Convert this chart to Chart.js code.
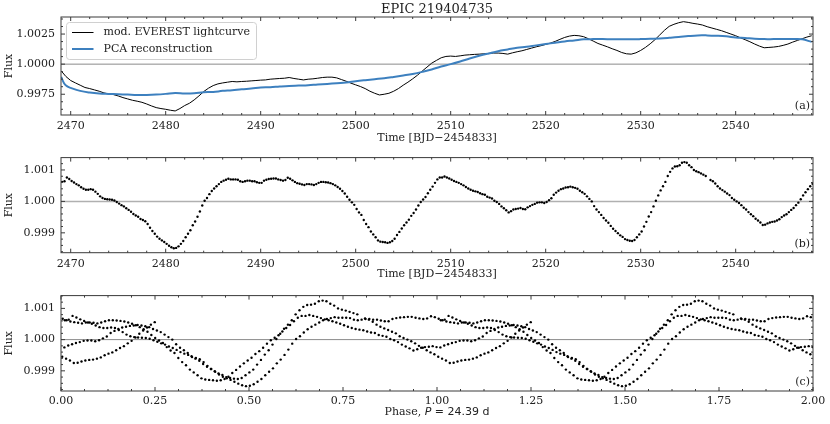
<!DOCTYPE html>
<html>
<head>
<meta charset="utf-8">
<script src="https://cdn.jsdelivr.net/npm/chart.js@4.4.1/dist/chart.umd.min.js"></script>
<style>
  body { margin: 0; background: #fff; }
  .painel { position: absolute; left: 0; width: 830px; }
</style>
</head>
<body>
<div class="painel" style="top:0;height:145px"><canvas id="cvA" width="830" height="145"></canvas></div>
<div class="painel" style="top:145px;height:138px"><canvas id="cvB" width="830" height="138"></canvas></div>
<div class="painel" style="top:283px;height:141px"><canvas id="cvC" width="830" height="141"></canvas></div>
<script>
// curva EVEREST modificada (painel a), passo de 0.5 d
const inicioEverest = 2469.0, passoEverest = 0.5;
const fluxoEverest = [
  0.99944, 0.99897, 0.99864, 0.99844, 0.99825, 0.99806, 0.99797, 0.99786, 0.99775, 0.99761,
  0.99753, 0.99747, 0.99736, 0.99722, 0.99711, 0.99700, 0.99692, 0.99683, 0.99669, 0.99653,
  0.99639, 0.99631, 0.99625, 0.99617, 0.99611, 0.99631, 0.99656, 0.99675, 0.99703, 0.99736,
  0.99772, 0.99800, 0.99822, 0.99836, 0.99844, 0.99850, 0.99856, 0.99853, 0.99856, 0.99858,
  0.99861, 0.99864, 0.99867, 0.99869, 0.99875, 0.99878, 0.99881, 0.99883, 0.99889, 0.99881,
  0.99875, 0.99869, 0.99875, 0.99878, 0.99883, 0.99889, 0.99892, 0.99892, 0.99886, 0.99872,
  0.99858, 0.99842, 0.99828, 0.99814, 0.99797, 0.99775, 0.99758, 0.99744, 0.99750, 0.99758,
  0.99775, 0.99797, 0.99825, 0.99850, 0.99878, 0.99908, 0.99942, 0.99975, 1.00008, 1.00031,
  1.00053, 1.00064, 1.00067, 1.00064, 1.00069, 1.00075, 1.00078, 1.00081, 1.00083, 1.00086,
  1.00089, 1.00092, 1.00092, 1.00089, 1.00083, 1.00094, 1.00103, 1.00111, 1.00122, 1.00133,
  1.00144, 1.00153, 1.00164, 1.00175, 1.00189, 1.00206, 1.00222, 1.00233, 1.00239, 1.00236,
  1.00228, 1.00211, 1.00192, 1.00172, 1.00158, 1.00144, 1.00128, 1.00114, 1.00097, 1.00086,
  1.00083, 1.00094, 1.00114, 1.00139, 1.00169, 1.00203, 1.00242, 1.00281, 1.00314, 1.00331,
  1.00344, 1.00353, 1.00347, 1.00339, 1.00333, 1.00325, 1.00311, 1.00300, 1.00289, 1.00278,
  1.00264, 1.00250, 1.00236, 1.00219, 1.00203, 1.00186, 1.00167, 1.00150, 1.00136, 1.00139,
  1.00142, 1.00147, 1.00156, 1.00167, 1.00183, 1.00197, 1.00211, 1.00225, 1.00236
];

// reconstrucao PCA (painel a)
const tempoPca = [2469.0, 2469.3, 2469.6, ...Array.from({length: 79}, (_, i) => 2470 + i)];
const fluxoPca = [
  0.99894, 0.99842, 0.99817,
  0.99803, 0.99778, 0.99764, 0.99756, 0.99753, 0.99750, 0.99747, 0.99744, 0.99744, 0.99747,
  0.99753, 0.99761, 0.99756, 0.99758, 0.99767, 0.99769, 0.99778, 0.99783, 0.99792, 0.99797,
  0.99806, 0.99808, 0.99814, 0.99819, 0.99822, 0.99825, 0.99831, 0.99836, 0.99842, 0.99847,
  0.99858, 0.99867, 0.99875, 0.99883, 0.99894, 0.99906, 0.99919, 0.99936, 0.99956, 0.99981,
  1.00000, 1.00022, 1.00047, 1.00069, 1.00089, 1.00108, 1.00122, 1.00136, 1.00144, 1.00156,
  1.00167, 1.00178, 1.00189, 1.00197, 1.00206, 1.00208, 1.00208, 1.00206, 1.00206, 1.00206,
  1.00208, 1.00211, 1.00214, 1.00219, 1.00225, 1.00233, 1.00239, 1.00239, 1.00236, 1.00231,
  1.00222, 1.00217, 1.00211, 1.00208, 1.00208, 1.00208, 1.00208, 1.00206, 1.00185
];

// curva corrigida (painel b), passo de 0.25 d; null = falha nos dados
const inicioDet = 2469.1, passoDet = 0.25;
const fluxoDet = [
  1.00062, 1.00064, 1.00076, 1.00071, 1.00065, 1.00060, 1.00055, 1.00051, 1.00045, 1.00040,
  1.00037, 1.00037, 1.00039, 1.00037, 1.00031, 1.00024, 1.00016, 1.00011, 1.00008, 1.00007,
  1.00006, 1.00005, 1.00003, 0.99998, 0.99993, 0.99988, 0.99984, 0.99978, 0.99973, 0.99967,
  0.99960, 0.99955, 0.99951, 0.99944, 0.99941, 0.99937, 0.99928, 0.99916, 0.99906, 0.99897,
  0.99888, 0.99881, 0.99876, 0.99871, 0.99865, 0.99859, 0.99854, 0.99851, 0.99852, 0.99857,
  0.99865, 0.99874, 0.99886, 0.99897, 0.99908, 0.99924, 0.99936, 0.99951, 0.99968, 0.99987,
  1.00002, 1.00011, 1.00023, 1.00033, 1.00041, 1.00048, 1.00055, 1.00062, 1.00066, 1.00069,
  1.00072, 1.00070, 1.00070, 1.00070, 1.00069, 1.00064, 1.00062, 1.00064, 1.00066, 1.00066,
  1.00064, 1.00064, 1.00061, 1.00059, 1.00059, 1.00066, 1.00069, 1.00071, 1.00072, 1.00073,
  1.00073, 1.00070, 1.00068, 1.00066, 1.00068, 1.00075, 1.00072, 1.00067, 1.00062, 1.00058,
  1.00056, 1.00054, 1.00052, 1.00055, 1.00055, 1.00054, 1.00052, 1.00055, 1.00059, 1.00062,
  1.00062, 1.00061, 1.00060, 1.00058, 1.00055, 1.00051, 1.00046, 1.00040, 1.00033, 1.00025,
  1.00015, 1.00005, 0.99997, 0.99989, 0.99976, 0.99965, 0.99957, 0.99941, 0.99928, 0.99918,
  0.99904, 0.99895, 0.99886, 0.99876, 0.99872, 0.99871, 0.99870, 0.99868, 0.99870, 0.99874,
  0.99881, 0.99893, 0.99903, 0.99914, 0.99924, 0.99933, 0.99942, 0.99954, 0.99963, 0.99974,
  0.99987, 0.99998, 1.00006, 1.00014, 1.00026, 1.00037, 1.00047, 1.00059, 1.00070, 1.00076,
  1.00076, 1.00079, 1.00076, 1.00073, 1.00069, 1.00065, 1.00062, 1.00059, 1.00055, 1.00051,
  1.00046, 1.00041, 1.00037, 1.00034, 1.00032, 1.00030, 1.00026, 1.00023, 1.00021, 1.00015,
  1.00012, 1.00009, 1.00002, 0.99998, 0.99992, 0.99984, 0.99978, 0.99972, 0.99965, 0.99969,
  0.99974, 0.99976, 0.99977, 0.99979, 0.99976, 0.99975, 0.99981, 0.99985, 0.99989, 0.99992,
  0.99996, 0.99997, 0.99997, 0.99995, 0.99998, 1.00004, 1.00010, 1.00021, 1.00028, 1.00034,
  1.00039, 1.00041, 1.00044, 1.00045, 1.00047, 1.00045, 1.00043, 1.00040, 1.00034, 1.00029,
  1.00024, 1.00016, 1.00008, 1.00000, 0.99985, 0.99974, 0.99966, 0.99957, 0.99947, 0.99939,
  0.99932, 0.99922, 0.99913, 0.99906, 0.99899, 0.99892, 0.99887, 0.99880, 0.99877, 0.99875,
  0.99874, 0.99877, 0.99886, 0.99895, 0.99904, 0.99920, 0.99935, 0.99952, 0.99966, 0.99984,
  1.00002, 1.00019, 1.00035, 1.00048, 1.00062, 1.00081, 1.00094, 1.00105, 1.00111, 1.00112,
  1.00115, 1.00123, 1.00125, 1.00123, 1.00115, 1.00109, 1.00100, 1.00096, 1.00093, 1.00089,
  1.00085, 1.00081, null, 1.00068, 1.00064, 1.00057, 1.00048, 1.00041, 1.00036, 1.00031,
  1.00025, 1.00020, 1.00011, 1.00005, 1.00000, 0.99995, 0.99988, 0.99980, 0.99974, 0.99966,
  0.99959, 0.99953, 0.99945, 0.99939, 0.99933, 0.99925, 0.99926, 0.99930, 0.99933, 0.99935,
  0.99936, 0.99939, 0.99943, 0.99950, 0.99955, 0.99959, 0.99966, 0.99973, 0.99979, 0.99988,
  0.99996, 1.00007, 1.00019, 1.00029, 1.00039, 1.00048, 1.00056
];

// dobra em fase (painel c)
const periodo = 24.39;
const epocaT0 = 2468.85;

Chart.defaults.font.family = "'DejaVu Serif', serif";
Chart.defaults.font.size = 11;
Chart.defaults.color = '#222';

const corEixo = '#3a3a3a';

function desenharTicks(ctx, escala, area, passoMenor, vertical) {
  const maiores = escala.ticks.map(t => t.value);
  const marcas = maiores.map(v => ({ v, len: 4 }));
  if (passoMenor) {
    for (let k = Math.ceil(escala.min / passoMenor - 1e-6); k * passoMenor <= escala.max + 1e-12; k++) {
      const v = k * passoMenor;
      if (maiores.some(m => Math.abs(m - v) < passoMenor / 10)) continue;
      marcas.push({ v, len: 2 });
    }
  }
  marcas.forEach(({ v, len }) => {
    const p = escala.getPixelForValue(v);
    ctx.beginPath();
    if (vertical) {
      ctx.moveTo(area.left, p); ctx.lineTo(area.left + len, p);
      ctx.moveTo(area.right, p); ctx.lineTo(area.right - len, p);
    } else {
      ctx.moveTo(p, area.bottom); ctx.lineTo(p, area.bottom - len);
      ctx.moveTo(p, area.top); ctx.lineTo(p, area.top + len);
    }
    ctx.stroke();
  });
}

const moldura = {
  id: 'moldura',
  beforeDatasetsDraw(chart, args, opts) {
    const { ctx, chartArea: a, scales: { y } } = chart;
    const y1 = y.getPixelForValue(1);
    ctx.save();
    ctx.strokeStyle = opts.corZero;
    ctx.lineWidth = opts.larguraZero;
    ctx.beginPath();
    ctx.moveTo(a.left, y1);
    ctx.lineTo(a.right, y1);
    ctx.stroke();
    ctx.restore();
  },
  afterDatasetsDraw(chart, args, opts) {
    const { ctx, chartArea: a, scales: { x, y } } = chart;
    ctx.save();
    ctx.strokeStyle = corEixo;
    ctx.lineWidth = 1;
    desenharTicks(ctx, x, a, opts.menorX, false);
    desenharTicks(ctx, y, a, opts.menorY, true);
    ctx.strokeRect(a.left, a.top, a.right - a.left, a.bottom - a.top);

    // rotulo do painel
    ctx.fillStyle = '#222';
    ctx.font = "11px 'DejaVu Serif'";
    ctx.textAlign = 'right';
    ctx.textBaseline = 'middle';
    ctx.fillText(opts.rotulo, a.right - 3, a.bottom - 9);

    if (opts.legenda) {
      const bx = a.left + 5.5, by = a.top + 5.5, bw = 190, bh = 37;
      ctx.beginPath();
      ctx.roundRect(bx, by, bw, bh, 3);
      ctx.fillStyle = 'rgba(255,255,255,0.8)';
      ctx.fill();
      ctx.strokeStyle = '#d0d0d0';
      ctx.stroke();
      ctx.textAlign = 'left';
      chart.data.datasets.forEach((ds, i) => {
        const ly = by + 10 + i * 16.5;
        ctx.beginPath();
        ctx.strokeStyle = ds.borderColor;
        ctx.lineWidth = ds.borderWidth;
        ctx.moveTo(bx + 5.5, ly);
        ctx.lineTo(bx + 27, ly);
        ctx.stroke();
        ctx.fillStyle = '#222';
        ctx.fillText(ds.label, bx + 37, ly);
      });
    }

    if (opts.tituloFase) {
      const partes = [
        { t: 'Phase, ', f: "11px 'DejaVu Serif'" },
        { t: 'P', f: "italic 11px 'DejaVu Sans'" },
        { t: ' = ' + periodo.toFixed(2) + ' d', f: "11px 'DejaVu Sans'" }
      ];
      let total = 0;
      partes.forEach(p => { ctx.font = p.f; p.w = ctx.measureText(p.t).width; total += p.w; });
      let px = (a.left + a.right) / 2 - total / 2;
      ctx.textAlign = 'left';
      ctx.fillStyle = '#222';
      partes.forEach(p => { ctx.font = p.f; ctx.fillText(p.t, px, opts.tituloFase); px += p.w; });
    }
    ctx.restore();
  }
};

function eixoX(min, max, passo, casas, altura, padTick, titulo, padTitulo) {
  return {
    type: 'linear', min, max,
    grid: { display: false, drawTicks: false },
    border: { display: false },
    ticks: { stepSize: passo, includeBounds: false, padding: padTick, maxRotation: 0, autoSkip: false,
      callback: v => v.toFixed(casas) },
    title: { display: !!titulo, text: titulo, padding: { top: 0, bottom: padTitulo } },
    afterFit: s => { s.height = altura; }
  };
}

function eixoY(min, max, passo, casas) {
  return {
    min, max,
    grid: { display: false, drawTicks: false },
    border: { display: false },
    ticks: { stepSize: passo, includeBounds: false, padding: 6, callback: v => v.toFixed(casas) },
    title: { display: true, text: 'Flux', padding: { top: 3, bottom: 0 } },
    afterFit: s => { s.width = 61; }
  };
}

const basePlugins = { legend: { display: false }, tooltip: { enabled: false } };

// painel (a)
new Chart(document.getElementById('cvA'), {
  type: 'line',
  data: {
    datasets: [
      {
        label: 'mod. EVEREST lightcurve',
        data: fluxoEverest.map((f, i) => ({ x: inicioEverest + i * passoEverest, y: f })),
        borderColor: '#000000', borderWidth: 1, pointRadius: 0, tension: 0, order: 2
      },
      {
        label: 'PCA reconstruction',
        data: fluxoPca.map((f, i) => ({ x: tempoPca[i], y: f })),
        borderColor: '#3d80bf', borderWidth: 2, pointRadius: 0, tension: 0.4, order: 1
      }
    ]
  },
  options: {
    responsive: false, animation: false, events: [],
    layout: { padding: { top: 0, right: 17, bottom: 0, left: 0 } },
    scales: {
      x: eixoX(2468.98, 2548.14, 10, 0, 30, 5, 'Time [BJD\u22122454833]', 0),
      y: eixoY(0.995775, 1.003917, 0.0025, 4)
    },
    plugins: {
      ...basePlugins,
      title: { display: true, text: 'EPIC 219404735', fullSize: false, color: '#222',
        font: { size: 13, weight: 'normal' }, padding: { top: 1.4, bottom: 0 } },
      moldura: { corZero: '#8a8a8a', larguraZero: 1, menorX: 2, menorY: 0.000625, rotulo: '(a)', legenda: true }
    }
  },
  plugins: [moldura]
});

// painel (b)
const pontosDet = [];
fluxoDet.forEach((f, i) => {
  if (f !== null) pontosDet.push({ x: inicioDet + i * passoDet, y: f });
});

new Chart(document.getElementById('cvB'), {
  type: 'scatter',
  data: {
    datasets: [{
      data: pontosDet,
      pointRadius: 1.2, pointBorderWidth: 0, pointBackgroundColor: '#000', pointHoverRadius: 0
    }]
  },
  options: {
    responsive: false, animation: false, events: [],
    layout: { padding: { top: 10, right: 17, bottom: 0, left: 0 } },
    scales: {
      x: eixoX(2468.98, 2548.14, 10, 0, 30.3, 5, 'Time [BJD\u22122454833]', 1.9),
      y: eixoY(0.998368, 1.001393, 0.001, 3)
    },
    plugins: {
      ...basePlugins,
      moldura: { corZero: '#b0b0b0', larguraZero: 1.5, menorX: 2, menorY: 0.0002, rotulo: '(b)' }
    }
  },
  plugins: [moldura]
});

// painel (c): mesma curva dobrada no periodo, mostrada duas vezes
const pontosFase = [];
pontosDet.forEach(p => {
  const fase = ((((p.x - epocaT0) / periodo) % 1) + 1) % 1;
  pontosFase.push({ x: fase, y: p.y }, { x: fase + 1, y: p.y });
});

new Chart(document.getElementById('cvC'), {
  type: 'scatter',
  data: {
    datasets: [{
      data: pontosFase,
      pointRadius: 1.2, pointBorderWidth: 0, pointBackgroundColor: '#000', pointHoverRadius: 0
    }]
  },
  options: {
    responsive: false, animation: false, events: [],
    layout: { padding: { top: 8.7, right: 17, bottom: 0, left: 0 } },
    scales: {
      x: eixoX(0, 2, 0.25, 2, 33, 4, '', 0),
      y: eixoY(0.998354, 1.00141, 0.001, 3)
    },
    plugins: {
      ...basePlugins,
      moldura: { corZero: '#8a8a8a', larguraZero: 1, menorX: 0.0625, menorY: 0.0002, rotulo: '(c)', tituloFase: 128.7 }
    }
  },
  plugins: [moldura]
});
</script>
</body>
</html>
